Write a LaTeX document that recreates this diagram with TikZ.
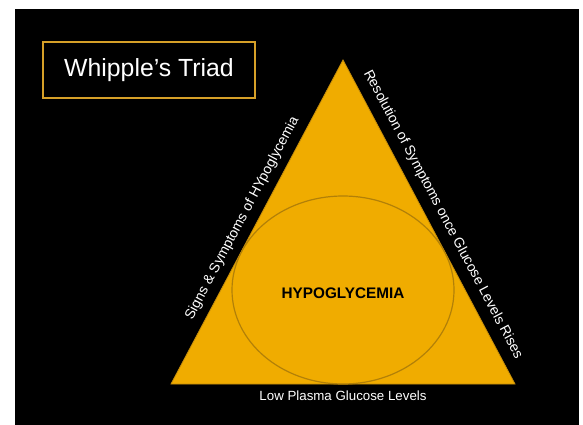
\documentclass[tikz,border=0pt]{standalone}
\usepackage{fontspec}
\setmainfont{Liberation Sans}
\usetikzlibrary{shapes.geometric}
\definecolor{gold}{RGB}{240,172,0}
\definecolor{golddark}{RGB}{196,140,10}
\definecolor{goldline}{RGB}{178,128,8}
\definecolor{boxgold}{RGB}{214,160,40}
\begin{document}
\begin{tikzpicture}[x=1pt,y=-1pt,
  sidetext/.style={font=\fontsize{14}{15}\selectfont, text=white, inner sep=0pt},
  titlebox/.style={draw=boxgold, line width=2.6pt, minimum width=212pt, minimum height=56pt, font=\fontsize{24.8}{28}\selectfont, text=white},
  tri/.style={fill=gold, draw=golddark, line width=0.8pt, line join=miter},
  core/.style={draw=goldline, line width=1.2pt, shape=ellipse, minimum width=222pt, minimum height=188pt, inner sep=0pt},
  label/.style={font=\fontsize{15.3}{17}\selectfont\bfseries, text=black},
]
\useasboundingbox (0,0) rectangle (583,425);
\fill[white] (0,0) rectangle (583,425);
\fill[black] (15,9) rectangle (579,425);
% title
\node[titlebox] (title) at (149,70) {Whipple’s Triad};
% triangle
\coordinate (A) at (343,60);
\coordinate (L) at (171,384);
\coordinate (R) at (515,384);
\draw[tri] (A) -- (L) -- (R) -- cycle;
% ellipse
\node[core] (core) at (343,290) {};
\node[label] (hypo) at (343,293) {HYPOGLYCEMIA};
% side texts
\path (L) -- node[sidetext, pos=0.49, sloped, above=8pt] (signs) {Signs \& Symptoms of HYpoglycemia} (A);
\path (A) -- node[sidetext, midway, sloped, above=9pt] (resol) {Resolution of Symptoms once Glucose Levels Rises} (R);
\node[sidetext, font=\fontsize{13.3}{14}\selectfont] (low) at (343,396) {Low Plasma Glucose Levels};
\end{tikzpicture}
\end{document}
